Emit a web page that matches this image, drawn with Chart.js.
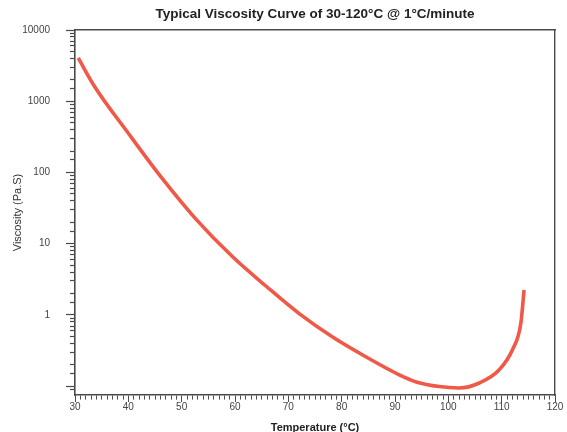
<!DOCTYPE html>
<html>
<head>
<meta charset="utf-8">
<script src="https://cdn.jsdelivr.net/npm/chart.js@4/dist/chart.umd.min.js"></script>
<style>
  html, body { margin: 0; padding: 0; background: #ffffff; }
  #wrap { width: 567px; height: 432px; }
</style>
</head>
<body>
<div id="wrap"><canvas id="c" width="567" height="432"></canvas></div>
<script>
// ---- data ----
const temperatures = [30.6, 33.7, 40.0, 46.2, 52.5, 59.6, 65.9, 72.1, 78.3, 84.6, 90.8, 94.0, 98.3, 102.0, 105.8, 109.5, 112.0, 113.6, 114.2];
const viscosity    = [4050, 1600, 355, 85.1, 22.9, 6.5, 2.51, 1.035, 0.49, 0.257, 0.1445, 0.1148, 0.0989, 0.0944, 0.111, 0.169, 0.323, 0.773, 2.24];
const xTickLabels  = [30, 40, 50, 60, 70, 80, 90, 100, 110, 120];
const yTickLabels  = [1, 10, 100, 1000, 10000];
const titleText    = 'Typical Viscosity Curve of 30-120°C @ 1°C/minute';
const xTitle       = 'Temperature (°C)';
const yTitle       = 'Viscosity (Pa.S)';

const points = temperatures.map((t, i) => ({ x: t, y: viscosity[i] }));
const axisColor = '#4a4a4a';
const fontFam = '"Liberation Sans", Arial, Helvetica, sans-serif';

function isDecade(v) {
  const l = Math.log10(v);
  return Math.abs(l - Math.round(l)) < 1e-6;
}

new Chart(document.getElementById('c'), {
  type: 'scatter',
  data: {
    datasets: [{
      data: points,
      showLine: true,
      borderColor: 'rgb(240,88,72)',
      backgroundColor: 'rgb(240,88,72)',
      borderWidth: 3.6,
      pointRadius: 0,
      cubicInterpolationMode: 'monotone',
      fill: false
    }]
  },
  options: {
    responsive: false,
    animation: false,
    devicePixelRatio: 1,
    layout: { padding: 0 },
    plugins: {
      legend: { display: false },
      tooltip: { enabled: false },
      title: {
        display: true,
        text: titleText,
        fullSize: false,
        color: '#222222',
        font: { family: fontFam, size: 13.5, weight: 'bold' },
        padding: { top: 6.5, bottom: 7.3 }
      }
    },
    scales: {
      x: {
        type: 'linear',
        position: 'bottom',
        min: 30,
        max: 120,
        afterFit: s => { s.height = 37; },
        border: { display: true, color: axisColor, width: 1.6 },
        grid: {
          drawOnChartArea: false,
          drawTicks: true,
          tickLength: 7,
          tickColor: axisColor,
          tickWidth: 1,
          tickBorderDash: ctx => (ctx.tick && Math.abs(ctx.tick.value % 10) < 1e-6) ? [] : [4, 20]
        },
        ticks: {
          stepSize: 1,
          autoSkip: false,
          maxRotation: 0,
          padding: -1,
          color: '#444444',
          font: { family: fontFam, size: 10 },
          callback: v => xTickLabels.includes(v) ? String(v) : ''
        },
        title: {
          display: true,
          text: xTitle,
          color: '#222222',
          font: { family: fontFam, size: 11, weight: 'bold' },
          padding: { top: 0, bottom: -3 }
        }
      },
      x2: {
        type: 'linear',
        position: 'top',
        min: 30,
        max: 120,
        afterFit: s => { s.height = 0; },
        border: { display: true, color: axisColor, width: 1.4 },
        grid: { display: false, drawTicks: false },
        ticks: { display: false }
      },
      y: {
        type: 'logarithmic',
        position: 'left',
        min: 0.0753,
        max: 10000,
        afterFit: s => { s.width = 75; },
        border: { display: true, color: axisColor, width: 1.6 },
        grid: {
          drawOnChartArea: false,
          drawTicks: true,
          tickLength: 9,
          tickColor: ctx => (ctx.tick && ctx.tick.value < 0.0799) ? 'rgba(0,0,0,0)' : axisColor,
          tickWidth: 1.2,
          tickBorderDash: ctx => (ctx.tick && isDecade(ctx.tick.value)) ? [] : [5, 4],
          tickBorderDashOffset: ctx => (ctx.tick && isDecade(ctx.tick.value)) ? 0 : 5
        },
        ticks: {
          autoSkip: false,
          padding: 16,
          color: '#444444',
          font: { family: fontFam, size: 10 },
          callback: v => (isDecade(v) && yTickLabels.includes(Math.round(v))) ? String(Math.round(v)) : ''
        },
        title: {
          display: true,
          text: yTitle,
          color: '#333333',
          font: { family: fontFam, size: 11, weight: 'normal' },
          padding: { top: 11, bottom: 0 }
        }
      },
      y2: {
        type: 'logarithmic',
        position: 'right',
        min: 0.0753,
        max: 10000,
        afterFit: s => { s.width = 12; },
        border: { display: true, color: axisColor, width: 1.4 },
        grid: { display: false, drawTicks: false },
        ticks: { display: false }
      }
    }
  }
});
</script>
</body>
</html>
